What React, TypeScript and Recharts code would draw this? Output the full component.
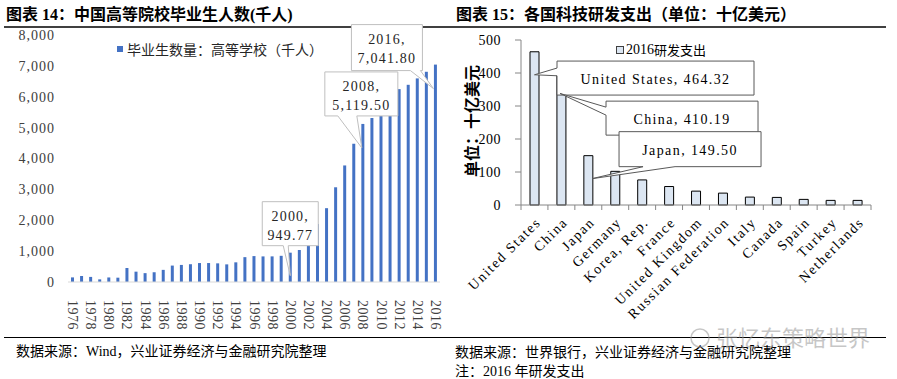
import React from "react";
import { BarChart, Bar, XAxis, YAxis, LabelList, Legend } from "recharts";

const SERIF = "'Liberation Serif', 'Noto Sans CJK SC', serif";
const CJK = "'Noto Sans CJK SC', sans-serif";

// 图表14：高等学校毕业生（千人）
const years = [
  "1976", "1977", "1978", "1979", "1980", "1981", "1982", "1983", "1984", "1985",
  "1986", "1987", "1988", "1989", "1990", "1991", "1992", "1993", "1994", "1995",
  "1996", "1997", "1998", "1999", "2000", "2001", "2002", "2003", "2004", "2005",
  "2006", "2007", "2008", "2009", "2010", "2011", "2012", "2013", "2014", "2015",
  "2016",
];
const graduates = [
  149, 194, 165, 85, 147, 140, 457, 335, 287, 316,
  393, 532, 553, 576, 614, 614, 604, 571, 637, 805,
  839, 829, 830, 848, 949.77, 1036, 1337, 1878, 2391, 3068,
  3775, 4478, 5119.5, 5311, 5754, 6082, 6247, 6387, 6594, 6809,
  7041.8,
];
const gradTicks = [0, 1000, 2000, 3000, 4000, 5000, 6000, 7000, 8000];

// 图表15：各国研发支出（十亿美元）
const countries = [
  "United States", "China", "Japan", "Germany", "Korea, Rep.", "France",
  "United Kingdom", "Russian Federation", "Italy", "Canada", "Spain", "Turkey",
  "Netherlands",
];
const rdSpend = [464.32, 410.19, 149.5, 102, 76, 56, 42, 36, 24, 23, 17, 14, 14];
const rdTicks = [0, 100, 200, 300, 400, 500];

const gradData = years.map((year, i) => ({ year, value: graduates[i] }));
const rdData = countries.map((country, i) => ({ country, value: rdSpend[i] }));

const RIGHT_W = 447;
const RIGHT_MARGIN = { top: 40, right: 26, bottom: 10, left: 0 };
const RIGHT_YAXIS_W = 71;
const RIGHT_PLOT_W = RIGHT_W - RIGHT_MARGIN.right - RIGHT_YAXIS_W;

type Spec = {
  l: number; t: number; w: number; h: number;
  tx: number; ty: number; side: "left" | "bottom"; a: number; c: number;
};

// callout placement relative to bar centre / bar top
const gradCallouts: Record<string, Spec> = {
  "2000": { l: -28, t: -51, w: 56, h: 44, tx: 0, ty: 23, side: "bottom", a: 21, c: 26 },
  "2008": { l: -38, t: -52, w: 73, h: 44, tx: -1, ty: 24, side: "bottom", a: 13, c: 32 },
  "2016": { l: -84, t: -40, w: 71, h: 46, tx: -2, ty: 24, side: "bottom", a: 59, c: 69 },
};
const rdCallouts: Record<string, Spec> = {
  "United States": { l: 22.5, t: 9.3, w: 197, h: 34, tx: 0, ty: 23, side: "left", a: 7, c: 14.7 },
  China: { l: 44.6, t: 31.5, w: 152, h: 34, tx: -1.4, ty: 23.8, side: "left", a: 6, c: 14 },
  Japan: { l: 30.7, t: -24, w: 142, h: 35, tx: 3.7, ty: 23, side: "bottom", a: 24, c: 56 },
};

function calloutPath(cx: number, top: number, s: Spec) {
  const l = cx + s.l, t = top + s.t, r = l + s.w, b = t + s.h;
  const tx = cx + s.tx, ty = top + s.ty;
  if (s.side === "bottom") {
    return `M${l},${t}H${r}V${b}H${l + s.c}L${tx},${ty}L${l + s.a},${b}H${l}Z`;
  }
  return `M${l},${t}H${r}V${b}H${l}V${t + s.c}L${tx},${ty}L${l},${t + s.a}Z`;
}

function GradCallout(props: any) {
  const vb = props.viewBox ?? props;
  const idx = props.index as number;
  const spec = gradCallouts[years[idx]];
  if (!spec || vb == null) return null;
  const cx = vb.x + vb.width / 2;
  const top = vb.y;
  const l = cx + spec.l, t = top + spec.t;
  const val = graduates[idx].toLocaleString("en-US", { minimumFractionDigits: 2 });
  return (
    <g>
      <path d={calloutPath(cx, top, spec)} fill="#fff" stroke="#bfbfbf" strokeWidth={1} />
      <text x={l + spec.w / 2} y={t + 15} textAnchor="middle" dominantBaseline="central"
        fontFamily={SERIF} fontSize={14} letterSpacing={1.2} fill="#262626">
        {years[idx]},
      </text>
      <text x={l + spec.w / 2} y={t + 34} textAnchor="middle" dominantBaseline="central"
        fontFamily={SERIF} fontSize={14} letterSpacing={1.2} fill="#262626">
        {val}
      </text>
    </g>
  );
}

function RdCallout(props: any) {
  const vb = props.viewBox ?? props;
  const idx = props.index as number;
  const spec = rdCallouts[countries[idx]];
  if (!spec || vb == null) return null;
  const cx = vb.x + vb.width / 2;
  const top = vb.y;
  const l = cx + spec.l, t = top + spec.t;
  return (
    <g>
      <path d={calloutPath(cx, top, spec)} fill="#fff" stroke="#595959" strokeWidth={1} />
      <text x={l + spec.w / 2} y={t + spec.h / 2 + 1} textAnchor="middle" dominantBaseline="central"
        fontFamily={SERIF} fontSize={14} letterSpacing={1.4} fill="#000">
        {countries[idx]}, {rdSpend[idx].toFixed(2)}
      </text>
    </g>
  );
}

function YearTick({ x, y, payload }: any) {
  return (
    <text transform={`translate(${x},${y + 16}) rotate(90)`} textAnchor="start"
      dominantBaseline="central" fontFamily={SERIF} fontSize={14} letterSpacing={0.5} fill="#404040">
      {payload.value}
    </text>
  );
}

function CountryTick({ x, y, payload, index }: any) {
  const band = RIGHT_PLOT_W / countries.length;
  const last = index === countries.length - 1;
  return (
    <g>
      <line x1={x - band / 2} x2={x - band / 2} y1={y} y2={y + 5} stroke="#868686" />
      {last && <line x1={x + band / 2} x2={x + band / 2} y1={y} y2={y + 5} stroke="#868686" />}
      <text transform={`translate(${x + 4},${y + 15}) rotate(-45)`} textAnchor="end"
        dominantBaseline="central" fontFamily={SERIF} fontSize={14} letterSpacing={1.6} fill="#000">
        {payload.value}
      </text>
    </g>
  );
}

function GradLegend() {
  return (
    <div style={{ display: "flex", alignItems: "center", fontFamily: CJK, fontSize: 14, color: "#262626", whiteSpace: "nowrap" }}>
      <span style={{ width: 6, height: 6, background: "#4472c4", marginRight: 4, display: "inline-block" }} />
      毕业生数量：高等学校（千人）
    </div>
  );
}

function RdLegend() {
  return (
    <div style={{ display: "flex", alignItems: "center", fontSize: 14, color: "#000", whiteSpace: "nowrap" }}>
      <span style={{ width: 6, height: 6, background: "#dce6f2", border: "1px solid #404040", marginRight: 2, display: "inline-block" }} />
      <span style={{ fontFamily: SERIF }}>2016</span>
      <span style={{ fontFamily: CJK, fontSize: 13 }}>研发支出</span>
    </div>
  );
}

export default function App() {
  return (
    <div style={{ position: "absolute", left: 0, top: 0, width: 897, height: 379, background: "#fff", overflow: "hidden" }}>
      <svg width={897} height={379} style={{ position: "absolute", left: 0, top: 0 }}>
        <text x={6} y={14} dominantBaseline="central" fontFamily={SERIF} fontWeight="bold" fontSize={16} fill="#000">
          图表 14：中国高等院校毕业生人数(千人)
        </text>
        <text x={456} y={14} dominantBaseline="central" fontFamily={SERIF} fontWeight="bold" fontSize={16} fill="#000">
          图表 15：各国科技研发支出（单位：十亿美元）
        </text>
        <line x1={4} x2={886} y1={27} y2={27} stroke="#000" strokeWidth={1.5} />
        <line x1={4} x2={886} y1={337.5} y2={337.5} stroke="#000" strokeWidth={1} />
        <text x={16} y={351} dominantBaseline="central" fontFamily={SERIF} fontSize={14} fill="#000">
          数据来源：Wind，兴业证券经济与金融研究院整理
        </text>
        <text x={455} y={352} dominantBaseline="central" fontFamily={SERIF} fontSize={14} fill="#000">
          数据来源：世界银行，兴业证券经济与金融研究院整理
        </text>
        <text x={455} y={371} dominantBaseline="central" fontFamily={SERIF} fontSize={14} fill="#000">
          注：2016 年研发支出
        </text>
        <g opacity={0.55}>
          <circle cx={700} cy={338} r={9} fill="none" stroke="#999" strokeWidth={1.5} />
          <text x={716} y={336} dominantBaseline="central" fontFamily={CJK} fontSize={22} fill="#999">
            张忆东策略世界
          </text>
        </g>
        <text transform="translate(471,121) rotate(-90)" textAnchor="middle" dominantBaseline="central"
          fontFamily={CJK} fontWeight="bold" fontSize={16} fill="#000">
          单位：十亿美元
        </text>
      </svg>

      <div style={{ position: "absolute", left: 0, top: 0 }}>
        <BarChart width={450} height={340} data={gradData}
          margin={{ top: 35, right: 10, bottom: 8, left: 0 }} barCategoryGap={0}>
          <XAxis dataKey="year" interval={1} height={50} tickSize={0} tickMargin={2}
            axisLine={{ stroke: "#d9d9d9" }} tick={<YearTick />} />
          <YAxis domain={[0, 8000]} ticks={gradTicks} width={68} tickSize={0} tickMargin={13}
            axisLine={false} tickLine={false}
            tickFormatter={(v: number) => v.toLocaleString("en-US")}
            tick={{ fontFamily: SERIF, fontSize: 14, fill: "#404040", letterSpacing: 1 }} />
          <Legend layout="horizontal" verticalAlign="middle" align="center" content={<GradLegend />}
            wrapperStyle={{ position: "absolute", left: 117, top: 39, width: "auto" }} />
          <Bar dataKey="value" name="毕业生数量：高等学校（千人）" fill="#4472c4" barSize={3} isAnimationActive={false}>
            <LabelList dataKey="value" content={<GradCallout />} />
          </Bar>
        </BarChart>
      </div>

      <div style={{ position: "absolute", left: 450, top: 0 }}>
        <BarChart width={RIGHT_W} height={340} data={rdData} margin={RIGHT_MARGIN}>
          <XAxis dataKey="country" interval={0} height={125} tickSize={0} tickMargin={0}
            axisLine={{ stroke: "#868686" }} tick={<CountryTick />} />
          <YAxis domain={[0, 500]} ticks={rdTicks} width={RIGHT_YAXIS_W} tickSize={6} tickMargin={14}
            axisLine={{ stroke: "#868686" }} tickLine={{ stroke: "#868686" }}
            tick={{ fontFamily: SERIF, fontSize: 14, fill: "#000", letterSpacing: 0.5 }} />
          <Legend layout="horizontal" verticalAlign="middle" align="center" content={<RdLegend />}
            wrapperStyle={{ position: "absolute", left: 166, top: 40, width: "auto" }} />
          <Bar dataKey="value" name="2016研发支出" fill="#dce6f2" stroke="#000" strokeWidth={1}
            barSize={9} isAnimationActive={false}>
            <LabelList dataKey="value" content={<RdCallout />} />
          </Bar>
        </BarChart>
      </div>
    </div>
  );
}
